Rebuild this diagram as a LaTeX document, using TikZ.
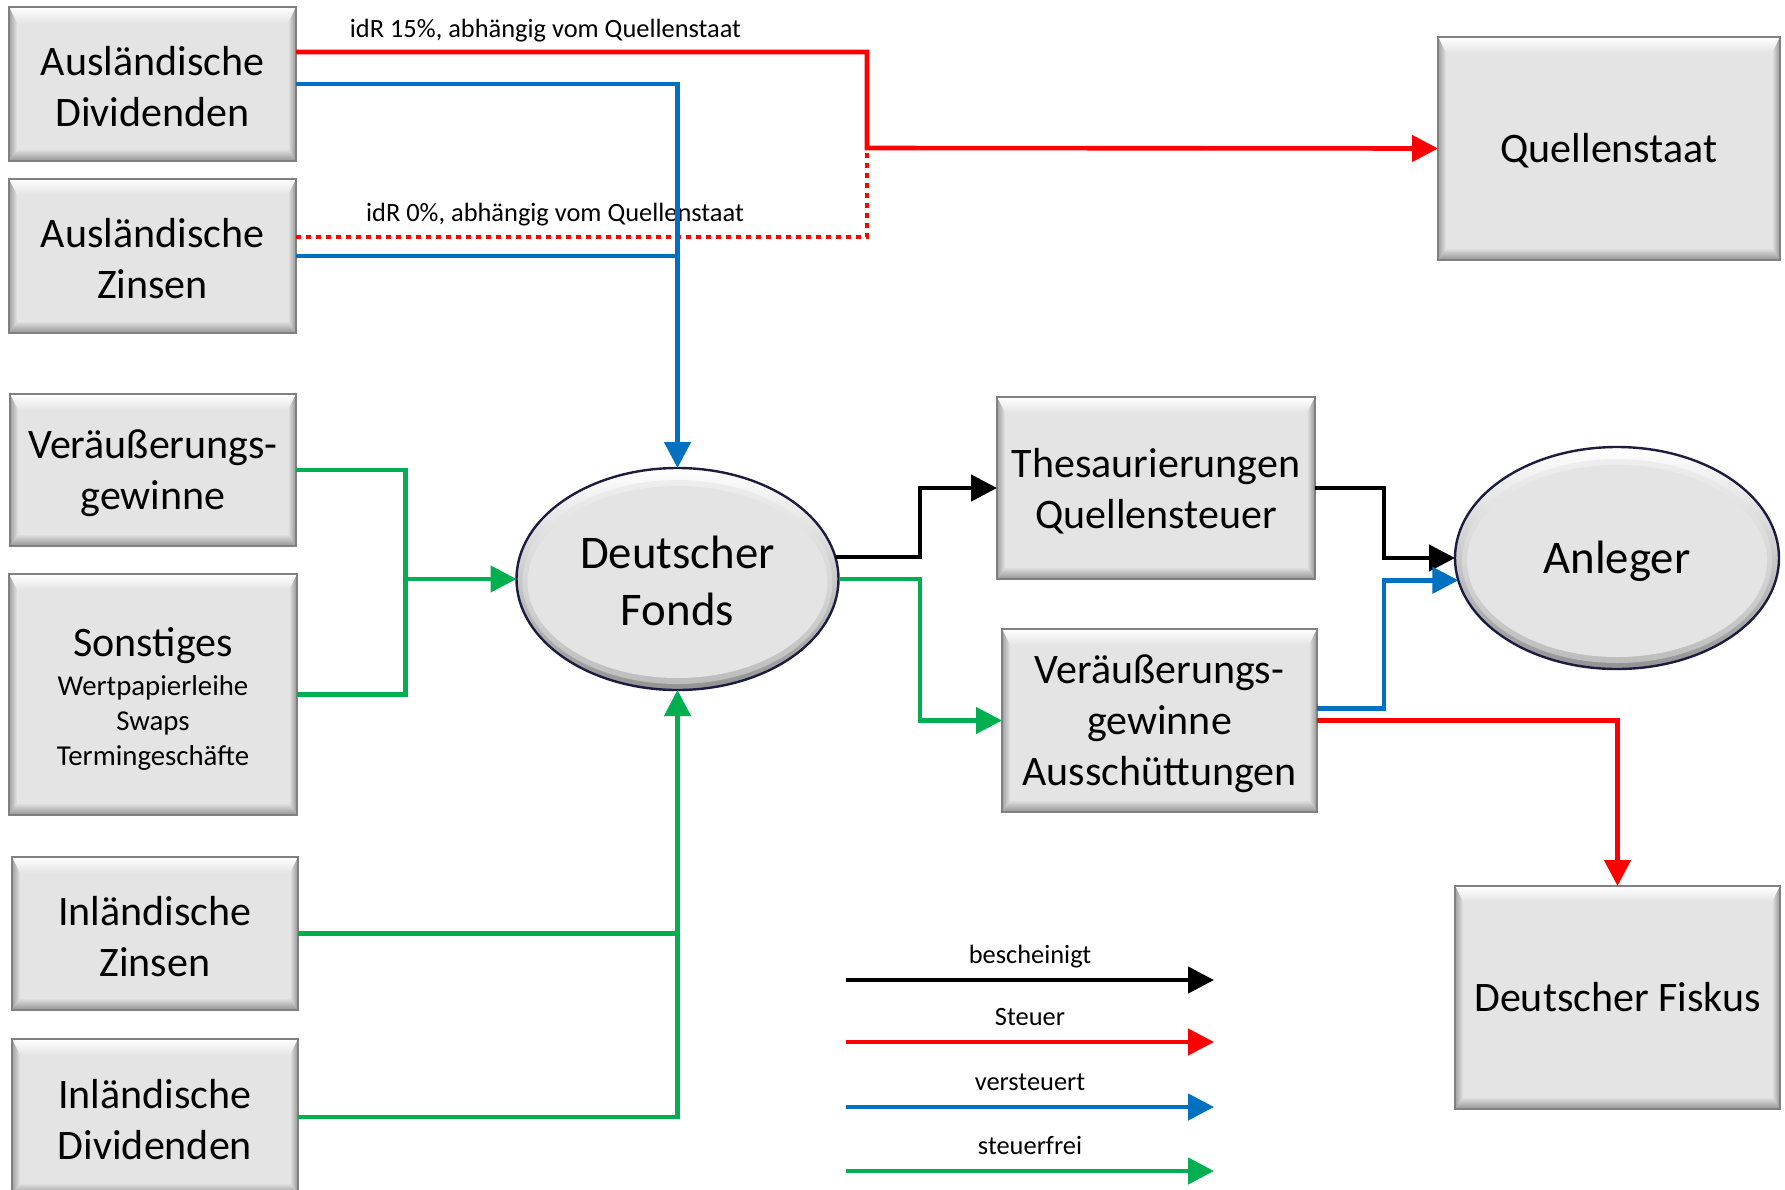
\documentclass[tikz,border=0pt]{standalone}
\usepackage{fontspec}
\setmainfont{Carlito}
\usetikzlibrary{arrows.meta,shapes.geometric,calc}
\definecolor{boxgray}{RGB}{228,228,228}
\definecolor{boxedge}{RGB}{128,128,128}
\definecolor{elledge}{RGB}{28,28,64}
\definecolor{cred}{RGB}{255,0,0}
\definecolor{cblue}{RGB}{0,112,192}
\definecolor{cgreen}{RGB}{0,176,80}
\newcommand\bigtxt{\fontsize{21}{25.5}\selectfont}
\newcommand\elltxt{\fontsize{23.4}{28.5}\selectfont}
\newcommand\smalltxt{\fontsize{14.4}{17.5}\selectfont}
\newcommand\lbltxt{\fontsize{13.2}{16}\selectfont}
\tikzset{
  bevelbox/.style={rectangle, draw=boxedge, line width=1pt, fill=boxgray,
    inner sep=0pt, outer sep=0pt,
    path picture={
      \path (path picture bounding box.north west) coordinate (pnw)
            (path picture bounding box.north east) coordinate (pne)
            (path picture bounding box.south west) coordinate (psw)
            (path picture bounding box.south east) coordinate (pse);
      \shade[top color=white, bottom color=boxgray]
        (pnw) -- (pne) -- ($(pne)+(-4pt,-8pt)$) -- ($(pnw)+(4pt,-8pt)$) -- cycle;
      \shade[top color=boxgray, bottom color=boxedge!85]
        ($(psw)+(4pt,6pt)$) -- ($(pse)+(-4pt,6pt)$) -- (pse) -- (psw) -- cycle;
      \shade[left color=boxedge!75, right color=boxgray]
        (pnw) -- ($(pnw)+(4pt,-8pt)$) -- ($(psw)+(4pt,6pt)$) -- (psw) -- cycle;
      \shade[left color=boxgray, right color=boxedge!85]
        (pne) -- ($(pne)+(-4pt,-8pt)$) -- ($(pse)+(-4pt,6pt)$) -- (pse) -- cycle;
    }},
  boxtext/.style={align=center, font=\bigtxt, inner sep=0pt},
  ellnode/.style={ellipse, draw=elledge, line width=1.2pt, fill=boxgray,
    inner sep=0pt, outer sep=0pt,
    minimum width=161pt, minimum height=111pt,
    path picture={
      \shade[top color=white, middle color=boxgray, bottom color=boxedge!85]
        (path picture bounding box.south west) rectangle (path picture bounding box.north east);
      \fill[boxgray, opacity=0.5] ([yshift=-1.5pt]path picture bounding box.center)
        ellipse [x radius=77.5pt, y radius=51pt];
      \fill[boxgray] ([yshift=-1.5pt]path picture bounding box.center)
        ellipse [x radius=75pt, y radius=48pt];
    }},
  elltext/.style={align=center, font=\elltxt, inner sep=0pt},
  conn/.style={line width=2.3pt},
  arr/.style={-{Triangle[length=13pt,width=13pt]}},
  lbl/.style={font=\lbltxt, anchor=base, inner sep=0pt},
}
\begin{document}
\begin{tikzpicture}[x=0.5pt,y=-0.5pt]
\useasboundingbox (0,0) rectangle (1785,1190);
\fill[white] (0,0) rectangle (1785,1190);

% left boxes
\node[bevelbox, minimum width=143.5pt, minimum height=77pt] (AD) at (152.5,84) {};
\node[bevelbox, minimum width=143.5pt, minimum height=77pt] (AZ) at (152.5,256) {};
\node[bevelbox, minimum width=143pt, minimum height=76pt] (VG) at (153,470) {};
\node[bevelbox, minimum width=144pt, minimum height=120.5pt] (SO) at (153,694.5) {};
\node[bevelbox, minimum width=143pt, minimum height=76.5pt] (IZ) at (155,933.5) {};
\node[bevelbox, minimum width=143pt, minimum height=78pt] (ID) at (155,1117) {};

% centre and right
\node[ellnode] (F) at (677.5,579) {};
\node[bevelbox, minimum width=159pt, minimum height=91pt] (TH) at (1156,488) {};
\node[bevelbox, minimum width=157.5pt, minimum height=91.5pt] (VA) at (1159.5,720.5) {};
\node[ellnode, minimum width=162pt] (A) at (1617,558) {};
\node[bevelbox, minimum width=171pt, minimum height=111.5pt] (Q) at (1609,148.5) {};
\node[bevelbox, minimum width=162.5pt, minimum height=111.5pt] (FI) at (1617.5,997.5) {};

% texts of the boxes
\node[boxtext] (ADt) at ($(AD.center)+(0,3)$) {Ausländische\\Dividenden};
\node[boxtext] (AZt) at ($(AZ.center)+(0,3)$) {Ausländische\\Zinsen};
\node[boxtext] (VGt) at ($(VG.center)+(0,3)$) {Veräußerungs-\\gewinne};
\node[boxtext, text width=140pt] (SOt) at ($(SO.center)+(0,4.5)$)
  {{\bigtxt Sonstiges\par}\vskip1.6pt{\smalltxt Wertpapierleihe\\Swaps\\Termingeschäfte\par}};
\node[boxtext] (IZt) at ($(IZ.center)+(0,3)$) {Inländische\\Zinsen};
\node[boxtext] (IDt) at ($(ID.center)+(0,3)$) {Inländische\\Dividenden};
\node[elltext] (Ft) at ($(F.center)+(0,1.5)$) {Deutscher\\Fonds};
\node[boxtext] (THt) at ($(TH.center)+(0,3)$) {Thesaurierungen\\Quellensteuer};
\node[boxtext] (VAt) at ($(VA.center)+(0,3)$) {Veräußerungs-\\gewinne\\Ausschüttungen};
\node[elltext] (At) at ($(A.center)+(0,3)$) {Anleger};
\node[boxtext] (Qt) at ($(Q.center)+(0,2.5)$) {Quellenstaat};
\node[boxtext] (FIt) at ($(FI.center)+(0,0)$) {Deutscher Fiskus};

% labels
\node[lbl] (L15) at (545.5,37.5) {idR 15\%, abhängig vom Quellenstaat};
\node[lbl] (L0) at (555,221) {idR 0\%, abhängig vom Quellenstaat};

% junction coordinates
\coordinate (rj) at (867,148);
\coordinate (gj) at ($(F.west)+(-111,0)$);
\coordinate (jx) at (1384,0);

% connectors: foreign income
\draw[conn, cred, dash pattern=on 2.4pt off 2.6pt] ($(AZ.east)+(0,-19)$) -| (rj);
\draw[conn, cred, arr] ($(AD.east)+(0,-32)$) -| (rj) -- (Q.west);
\draw[conn, cblue] (AZ.east) -- (AZ.east -| F.north);
\draw[conn, cblue, arr] (AD.east) -| (F.north);

% green inputs
\draw[conn, cgreen] (VG.east) -| (gj);
\draw[conn, cgreen] (SO.east) -| (gj);
\draw[conn, cgreen, arr] (gj) -- (F.west);
\draw[conn, cgreen] (IZ.east) -- (IZ.east -| F.south);
\draw[conn, cgreen, arr] (ID.east) -| (F.south);

% outputs of the fund
\draw[conn, black, arr] (F.8) -| ($(TH.west)+(-77,0)$) -- (TH.west);
\draw[conn, cgreen, arr] (F.east) -| ($(VA.west)+(-82,0)$) -- (VA.west);
\draw[conn, black, arr] (TH.east) -| (A.west -| jx) -- (A.west);
\draw[conn, cblue, arr] ($(VA.east)+(0,-12)$) -| (A.188 -| jx) -- (A.188);
\draw[conn, cred, arr] (VA.east) -| (FI.north);

% legend
\coordinate (lg1s) at (846,980);  \coordinate (lg1e) at (1214,980);
\coordinate (lg2s) at (846,1042); \coordinate (lg2e) at (1214,1042);
\coordinate (lg3s) at (846,1107); \coordinate (lg3e) at (1214,1107);
\coordinate (lg4s) at (846,1171); \coordinate (lg4e) at (1214,1171);
\node[lbl] (lt1) at (1030,963) {bescheinigt};
\node[lbl] (lt2) at (1030,1025) {Steuer};
\node[lbl] (lt3) at (1030,1090) {versteuert};
\node[lbl] (lt4) at (1030,1154) {steuerfrei};
\draw[conn, black, arr] (lg1s) -- (lg1e);
\draw[conn, cred, arr] (lg2s) -- (lg2e);
\draw[conn, cblue, arr] (lg3s) -- (lg3e);
\draw[conn, cgreen, arr] (lg4s) -- (lg4e);
\end{tikzpicture}
\end{document}
